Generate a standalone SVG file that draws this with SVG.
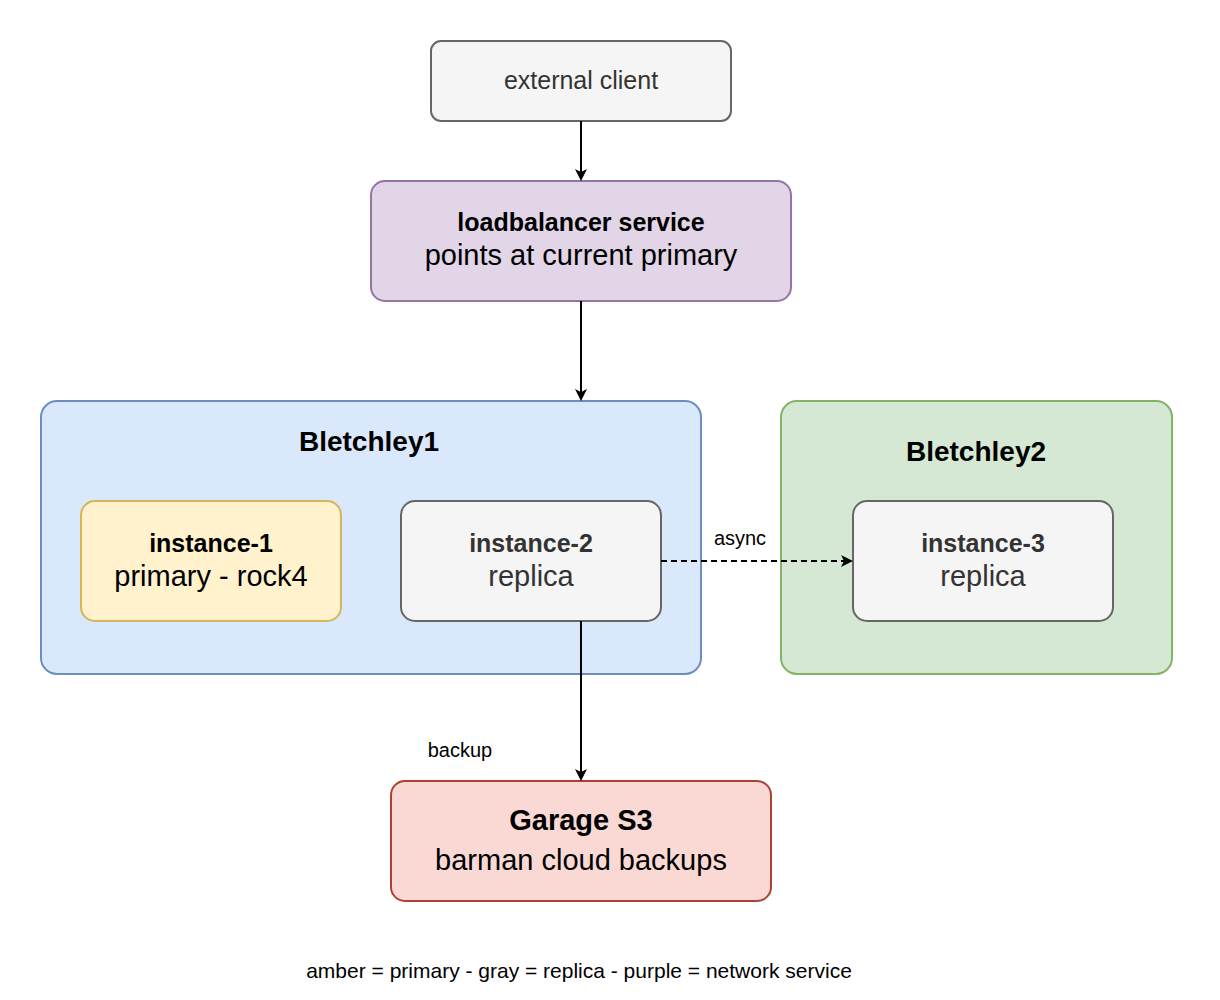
<svg xmlns="http://www.w3.org/2000/svg" width="1220" height="1000" viewBox="0 0 1220 1000">
<style>
text{font-family:"Liberation Sans",Arial,sans-serif;text-anchor:middle}
.b{font-weight:bold}
.g{fill:#333}
.e{stroke-width:2;fill:none;stroke:#000}
</style>
<defs><marker id="a" markerWidth="12" markerHeight="12" refX="10" refY="6" orient="auto" markerUnits="userSpaceOnUse"><path d="M0,0 L12,6 L0,12 L3,6 Z" fill="#000"/></marker></defs>
<rect width="1220" height="1000" fill="#fff"/>
<g id="bletchley1"><rect x="41" y="401" width="660" height="273" rx="16" fill="#dae8fc" stroke="#6c8ebf" stroke-width="2"/><text x="369" y="451" font-size="28" class="b">Bletchley1</text></g>
<g id="bletchley2"><rect x="781" y="401" width="391" height="273" rx="16" fill="#d5e8d4" stroke="#82b366" stroke-width="2"/><text x="976" y="461" font-size="28" class="b">Bletchley2</text></g>
<g id="client"><rect x="431" y="41" width="300" height="80" rx="10" fill="#f5f5f5" stroke="#666" stroke-width="2"/><text x="581" y="89" font-size="25" class="g">external client</text></g>
<g id="lb"><rect x="371" y="181" width="420" height="120" rx="14" fill="#e1d5e7" stroke="#9673a6" stroke-width="2"/><text x="581" y="231" font-size="25" class="b">loadbalancer service</text><text x="581" y="265" font-size="29">points at current primary</text></g>
<g id="instance1"><rect x="81" y="501" width="260" height="120" rx="14" fill="#fff2cc" stroke="#d6b656" stroke-width="2"/><text x="211" y="552" font-size="25" class="b">instance-1</text><text x="211" y="586" font-size="29">primary - rock4</text></g>
<g id="instance2"><rect x="401" y="501" width="260" height="120" rx="14" fill="#f5f5f5" stroke="#666" stroke-width="2"/><text x="531" y="552" font-size="25" class="b g">instance-2</text><text x="531" y="586" font-size="29" class="g">replica</text></g>
<g id="instance3"><rect x="853" y="501" width="260" height="120" rx="14" fill="#f5f5f5" stroke="#666" stroke-width="2"/><text x="983" y="552" font-size="25" class="b g">instance-3</text><text x="983" y="586" font-size="29" class="g">replica</text></g>
<g id="garage"><rect x="391" y="781" width="380" height="120" rx="14" fill="#fad9d5" stroke="#ae4132" stroke-width="2"/><text x="581" y="830" font-size="29" class="b">Garage S3</text><text x="581" y="870" font-size="29">barman cloud backups</text></g>
<g id="connectors">
<path class="e" d="M581,121 L581,179" marker-end="url(#a)"/>
<path class="e" d="M581,301 L581,399" marker-end="url(#a)"/>
<path class="e" d="M661,561 L851,561" stroke-dasharray="6,4" marker-end="url(#a)"/>
<path class="e" d="M581,621 L581,779" marker-end="url(#a)"/>
<text x="740" y="545" font-size="20">async</text>
<text x="460" y="757" font-size="20">backup</text>
</g>
<text x="579" y="978" font-size="21">amber = primary   -   gray = replica   -   purple = network service</text>
</svg>
